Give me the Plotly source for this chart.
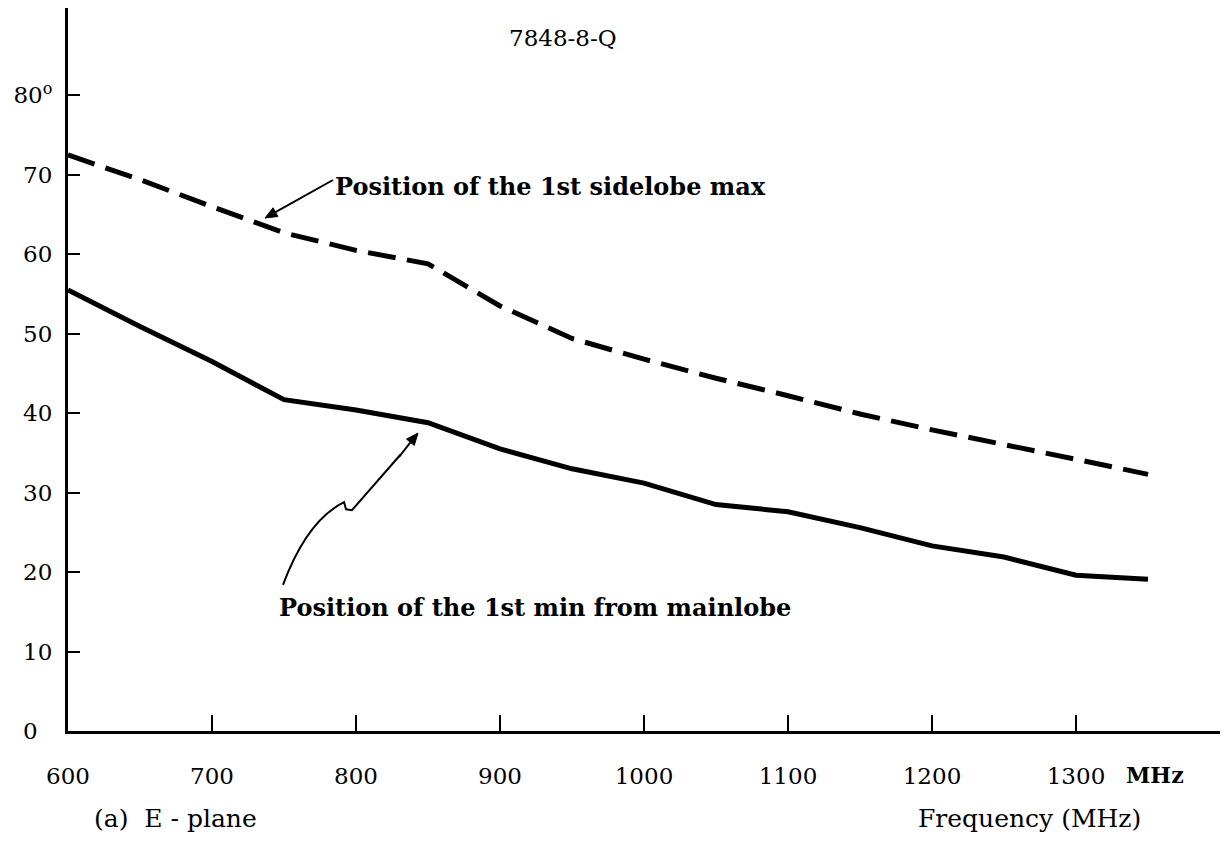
import math
import plotly.graph_objects as go

# ---- data ----
freq_mhz = [600, 650, 700, 750, 800, 850, 900, 950, 1000, 1050, 1100, 1150, 1200, 1250, 1300, 1350]
sidelobe_max_deg = [72.5, 69.4, 66.0, 62.7, 60.5, 58.8, 53.5, 49.4, 46.8, 44.4, 42.2, 39.9, 37.9, 36.1, 34.2, 32.3]
first_min_deg = [55.5, 50.9, 46.5, 41.7, 40.4, 38.8, 35.5, 33.0, 31.2, 28.5, 27.6, 25.6, 23.3, 21.9, 19.6, 19.1]

x_tick_vals = [600, 700, 800, 900, 1000, 1100, 1200, 1300]
x_tick_text = ["600", "700", "800", "900", "1000", "1100", "1200", "1300"]
x_end_tick = [1400]
y_tick_vals = [0, 10, 20, 30, 40, 50, 60, 70, 80]
y_tick_text = ["0\u2007", "10", "20", "30", "40", "50", "60", "70", "80<sup>o</sup>"]

SERIF = "DejaVu Serif"

# plot-area geometry (pixels) used only for placing decorative pointers
L, R, T, B = 68, 4, 8, 116
W, H = 1224, 847
X0, X1, Y0, Y1 = 600, 1400, 0, 91
PW, PH = W - L - R, H - T - B


def px2d(px, py):
    return (X0 + (px - L) / PW * (X1 - X0), Y0 + (H - B - py) / PH * (Y1 - Y0))


def arrow_head(tip, tail, length=12, half=5):
    ux, uy = tail[0] - tip[0], tail[1] - tip[1]
    n = math.hypot(ux, uy)
    ux, uy = ux / n, uy / n
    bx, by = tip[0] + length * ux, tip[1] + length * uy
    c1 = (bx - half * uy, by + half * ux)
    c2 = (bx + half * uy, by - half * ux)
    pts = [px2d(*tip), px2d(*c1), px2d(*c2)]
    path = "M {:.2f},{:.3f} L {:.2f},{:.3f} L {:.2f},{:.3f} Z".format(*pts[0], *pts[1], *pts[2])
    return path, (bx, by)


def poly_path(points_px):
    pts = [px2d(*p) for p in points_px]
    return "M " + " L ".join("{:.2f},{:.3f}".format(x, y) for x, y in pts)


fig = go.Figure()
fig.add_trace(go.Scatter(x=freq_mhz, y=sidelobe_max_deg, mode="lines",
                         line=dict(color="black", width=5, dash="28px,11.5px"),
                         showlegend=False, hoverinfo="skip"))
fig.add_trace(go.Scatter(x=freq_mhz, y=first_min_deg, mode="lines",
                         line=dict(color="black", width=5),
                         showlegend=False, hoverinfo="skip"))

fig.update_layout(
    width=W, height=H,
    margin=dict(l=L, r=R, t=T, b=B),
    paper_bgcolor="white", plot_bgcolor="white",
    font=dict(family=SERIF, color="black", size=22),
    xaxis=dict(range=[X0, X1], tickvals=x_tick_vals, ticktext=x_tick_text,
               ticks="inside", ticklen=16, tickwidth=2, tickcolor="black",
               minor=dict(tickvals=x_end_tick, ticks="inside", ticklen=16, tickwidth=2,
                          tickcolor="black", showgrid=False),
               showline=True, linewidth=3, linecolor="black",
               showgrid=False, zeroline=False, ticklabelstandoff=22,
               tickfont=dict(family=SERIF, size=23, color="black")),
    yaxis=dict(range=[Y0, Y1], tickvals=y_tick_vals, ticktext=y_tick_text,
               ticks="inside", ticklen=12, tickwidth=2, tickcolor="black",
               showline=True, linewidth=3, linecolor="black",
               showgrid=False, zeroline=False, ticklabelstandoff=8,
               tickfont=dict(family=SERIF, size=23, color="black")),
)

# title-like label
fig.add_annotation(text="7848-8-Q", xref="paper", yref="paper", x=(563 - L) / PW,
                   y=(H - B - 38) / PH, xanchor="center", yanchor="middle",
                   showarrow=False, font=dict(family=SERIF, size=23))
# MHz after 1300
fig.add_annotation(text="<b>MHz</b>", xref="paper", yref="paper", x=(1124 - L) / PW,
                   y=(H - B - 775) / PH, xanchor="left", yanchor="middle", showarrow=False,
                   font=dict(family=SERIF, size=22))
# bottom captions
fig.add_annotation(text="(a)  E - plane", xref="paper", yref="paper", x=(92 - L) / PW,
                   y=(H - B - 818) / PH, xanchor="left", yanchor="middle", showarrow=False,
                   font=dict(family=SERIF, size=25))
fig.add_annotation(text="Frequency (MHz)", xref="paper", yref="paper", x=(1029 - L) / PW,
                   y=(H - B - 818) / PH, xanchor="center", yanchor="middle", showarrow=False,
                   font=dict(family=SERIF, size=25))

# curve labels
fig.add_annotation(text="<b>Position of the 1st sidelobe max</b>", x=784, y=68.5,
                   xanchor="left", yanchor="middle", showarrow=False,
                   font=dict(family=SERIF, size=24))
fig.add_annotation(text="<b>Position of the 1st min from mainlobe</b>", x=745, y=15.6,
                   xanchor="left", yanchor="middle", showarrow=False,
                   font=dict(family=SERIF, size=24))

# pointer 1: straight arrow to the dashed curve
head1, base1 = arrow_head((265, 218), (333, 180))
fig.add_shape(type="path", xref="x", yref="y", path=poly_path([(333, 180), base1]),
              line=dict(color="black", width=2))
fig.add_shape(type="path", xref="x", yref="y", path=head1,
              line=dict(color="black", width=1), fillcolor="black")

# pointer 2: squiggly arrow to the solid curve
head2, base2 = arrow_head((418, 433), (400, 455))
fig.add_shape(type="path", xref="x", yref="y",
              path="M 749.3,18.4 Q 766,26.5 791.7,28.8 L 793.1,27.9 L 797.2,27.8 L 831,34.8",
              line=dict(color="black", width=2))
fig.add_shape(type="path", xref="x", yref="y", path=poly_path([(399, 457), base2]),
              line=dict(color="black", width=2))
fig.add_shape(type="path", xref="x", yref="y", path=head2,
              line=dict(color="black", width=1), fillcolor="black")

fig.write_html("out.html")
